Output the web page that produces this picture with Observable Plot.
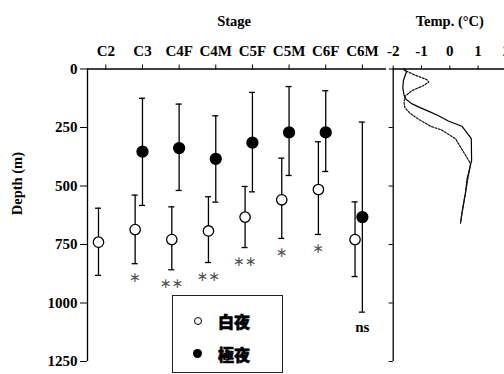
<!DOCTYPE html>
<html><head><meta charset="utf-8">
<script src="https://cdn.jsdelivr.net/npm/d3@7"></script>
<script src="https://cdn.jsdelivr.net/npm/@observablehq/plot@0.6"></script>
<style>
html,body{margin:0;padding:0;overflow:hidden;background:#fff;width:504px;height:374px}
#wrap{position:relative;width:504px;height:374px}
#main,#temp{position:absolute;top:0}
#main{left:0}
#temp{left:380px}
#legend{position:absolute;left:172px;top:295px;width:109px;height:76px;border:1px solid #222;background:#fff}
.ldot{position:absolute;border-radius:50%;box-sizing:border-box}
.ltxt{position:absolute;font-family:"Noto Sans CJK JP";font-weight:900;font-size:16px;line-height:16px;color:#000;-webkit-text-stroke:0.6px #000}
</style>
</head><body>
<div id="wrap">
  <div id="main"></div>
  <div id="temp"></div>
  <div id="legend">
    <div class="ldot" style="left:21px;top:21px;width:8px;height:8px;border:1px solid #000;background:#fff"></div>
    <div class="ltxt" style="left:45px;top:17px">白夜</div>
    <div class="ldot" style="left:20px;top:53px;width:9px;height:9px;background:#000"></div>
    <div class="ltxt" style="left:45px;top:50px">極夜</div>
  </div>
</div>
<script>
// ---- data ----
const stages = ["C2","C3","C4F","C4M","C5F","C5M","C6F","C6M"];
// white night (白夜): mean depth and error-bar ends (m)
const whiteMean    = [740, 686, 729, 692, 633, 559, 515, 729];
const whiteShallow = [595, 539, 589, 546, 502, 381, 311, 568];
const whiteDeep    = [882, 832, 858, 827, 763, 724, 707, 887];
// polar night (極夜)
const polarMean    = [null, 353, 338, 384, 315, 271, 271, 633];
const polarShallow = [null, 125, 150, 200, 100,  75,  93, 227];
const polarDeep    = [null, 583, 519, 569, 525, 455, 438, 1039];
// significance labels
const signif = ["", "*", "**", "**", "**", "*", "*", "ns"];
const depthTicks = [0, 250, 500, 750, 1000, 1250];
const tempTicks = [-2, -1, 0, 1, 2];
// temperature profiles (depth m, temp °C)
const solidDepth = [0, 12, 28, 50, 80, 110, 130, 148, 165, 182, 200, 222, 246, 298, 391, 441, 470, 533, 605, 659];
const solidTemp  = [-1.62, -1.53, -1.58, -1.64, -1.66, -1.62, -1.54, -1.35, -1.05, -0.72, -0.40, -0.05, 0.44, 0.76, 0.77, 0.67, 0.61, 0.55, 0.44, 0.38];
const dashDepth = [0, 8, 25, 45, 56, 72, 92, 115, 140, 165, 190, 215, 245, 260, 298, 334, 391, 408, 448, 533, 655];
const dashTemp  = [-1.64, -1.55, -1.25, -0.82, -0.74, -0.95, -1.33, -1.57, -1.62, -1.59, -1.40, -1.10, -0.68, -0.30, 0.20, 0.38, 0.67, 0.73, 0.67, 0.55, 0.38];

// ---- build tables ----
const W_OFF = -0.2, CAP = 0.082;
const rows = stages.map((s, i) => ({
  i, stage: s,
  wx: i + 0.5 + W_OFF, px: i + 0.5,
  wm: whiteMean[i], ws: whiteShallow[i], wd: whiteDeep[i],
  pm: polarMean[i], ps: polarShallow[i], pd: polarDeep[i],
  sig: signif[i]
}));
const polarRows = rows.filter(d => d.pm != null);
const sigRows = rows.filter(d => d.sig).map(d => {
  const usePolar = d.pd != null && d.pd > d.wd;
  return {x: usePolar ? d.px : d.wx, y: usePolar ? d.pd : d.wd, sig: d.sig};
});
const solid = solidDepth.map((d, k) => ({depth: d, temp: solidTemp[k]}));
const dashed = dashDepth.map((d, k) => ({depth: d, temp: dashTemp[k]}));

const serif = {fontFamily: "'Liberation Serif', 'Times New Roman', serif", fontWeight: "bold", fontSize: "15px", overflow: "visible", maxWidth: "none", background: "transparent"};
const SW = 1.3;

const main = Plot.plot({
  width: 388, height: 374,
  marginLeft: 87, marginRight: 7.8, marginTop: 68.5, marginBottom: 13,
  style: serif,
  x: {domain: [0, 8], axis: "top", ticks: stages.map((s, i) => i + 0.5), tickFormat: d => stages[Math.floor(d)], tickSize: 5, tickPadding: 8, label: null},
  y: {domain: [0, 1250], reverse: true, ticks: depthTicks, tickSize: 7, tickPadding: 3, label: null, tickFormat: d => String(d)},
  marks: [
    Plot.ruleY([0], {x1: 0, x2: 8.16, strokeWidth: SW}),
    Plot.ruleX([0], {strokeWidth: SW}),
    // white night bars
    Plot.ruleX(rows, {x: "wx", y1: "ws", y2: "wd", strokeWidth: SW}),
    Plot.ruleY(rows, {y: "ws", x1: d => d.wx - CAP, x2: d => d.wx + CAP, strokeWidth: SW}),
    Plot.ruleY(rows, {y: "wd", x1: d => d.wx - CAP, x2: d => d.wx + CAP, strokeWidth: SW}),
    // polar night bars
    Plot.ruleX(polarRows, {x: "px", y1: "ps", y2: "pd", strokeWidth: SW}),
    Plot.ruleY(polarRows, {y: "ps", x1: d => d.px - CAP, x2: d => d.px + CAP, strokeWidth: SW}),
    Plot.ruleY(polarRows, {y: "pd", x1: d => d.px - CAP, x2: d => d.px + CAP, strokeWidth: SW}),
    Plot.dot(rows, {x: "wx", y: "wm", r: 5.2, fill: "white", stroke: "black", strokeWidth: SW}),
    Plot.dot(polarRows, {x: "px", y: "pm", r: 5.4, fill: "black", stroke: "black"}),
    Plot.text(sigRows.filter(d => d.sig !== "ns"), {x: "x", y: "y", text: d => d.sig.replace(/\*/g, "\u2217"), dy: 14, lineAnchor: "middle", fill: "#555", fontFamily: "DejaVu Sans", fontWeight: "normal", fontSize: 14}),
    Plot.text(sigRows.filter(d => d.sig === "ns"), {x: "x", y: "y", text: "sig", dy: 15, lineAnchor: "middle", fill: "black"}),
    Plot.text(["Stage"], {frameAnchor: "top", dy: -48, lineAnchor: "middle", fontSize: 14.5}),
    Plot.text(["Depth (m)"], {frameAnchor: "left", dx: -70, rotate: -90, lineAnchor: "middle", fontSize: 14.5})
  ]
});
document.getElementById("main").appendChild(main);

const temp = Plot.plot({
  width: 140, height: 374,
  marginLeft: 12.7, marginRight: 14.1, marginTop: 68.5, marginBottom: 13,
  style: serif,
  x: {domain: [-2, 2], axis: "top", ticks: tempTicks, tickSize: 4, tickPadding: 9, label: null, tickFormat: d => String(d)},
  y: {domain: [0, 1250], reverse: true, ticks: depthTicks, tickSize: 4, tickFormat: () => "", label: null},
  marks: [
    Plot.ruleY([0], {strokeWidth: SW}),
    Plot.ruleX([-2], {strokeWidth: SW}),
    Plot.line(solid, {x: "temp", y: "depth", stroke: "black", strokeWidth: 1.2}),
    Plot.line(dashed, {x: "temp", y: "depth", stroke: "#111", strokeWidth: 1.2, strokeDasharray: "2,1.5"}),
    Plot.text(["Temp. (°C)"], {frameAnchor: "top", dy: -48, lineAnchor: "middle", fontSize: 14.5})
  ]
});
document.getElementById("temp").appendChild(temp);
</script>
</body></html>
